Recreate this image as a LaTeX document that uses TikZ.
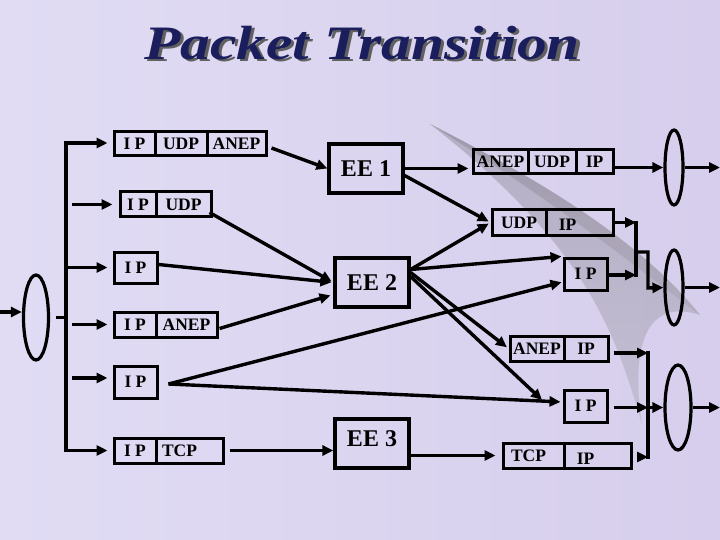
\documentclass[tikz,border=0pt]{standalone}
\usepackage{fontspec}
\setmainfont{Liberation Serif}
\usetikzlibrary{arrows.meta,shapes.geometric}
\definecolor{bgA}{HTML}{E1DCF4}
\definecolor{bgB}{HTML}{D6CEEC}
\definecolor{navy}{HTML}{1B1E5C}
\definecolor{shade}{HTML}{5E5878}
\begin{document}
\begin{tikzpicture}[x=1pt,y=-1pt,
  cell/.style={draw, line width=3pt, inner sep=0pt, font=\bfseries\fontsize{17.5}{17.5}\selectfont},
  celltext/.style={font=\bfseries\fontsize{17.5}{17.5}\selectfont},
  ee/.style={draw, line width=3.2pt, minimum width=74pt, minimum height=49pt, inner sep=0pt, font=\bfseries\fontsize{24}{24}\selectfont},
  conn/.style={line width=3.4pt, -{Triangle[length=11pt,width=10pt]}},
  wire/.style={line width=3.4pt},
  lens/.style={draw, ellipse, line width=3.2pt, inner sep=0pt},
]
% background
\shade[left color=bgA, right color=bgB] (0,0) rectangle (720,540);
\useasboundingbox (0,0) rectangle (720,540);
\fill[shade, opacity=0.13] (430,124) .. controls (540,180) and (640,240) .. (700,315)
  .. controls (655,300) and (628,330) .. (642,425) .. controls (615,330) and (585,245) .. (430,124);
\fill[shade, opacity=0.10] (430,124) .. controls (540,180) and (640,240) .. (700,315)
  .. controls (640,270) and (560,205) .. (430,124);
% title
\node[text=navy, font=\bfseries\itshape\fontsize{48}{48}\selectfont] (title) at (362,44)
  {\scalebox{1.24}[1]{\makebox[0pt][l]{\raisebox{-2.5pt}{\hspace{2.5pt}\textcolor{gray!75!black}{Packet Transition}}}Packet Transition}};

% left ellipse and bus
\node[lens, minimum width=25pt, minimum height=85pt] (L) at (36,317.5) {};
\coordinate (in0) at (0,312);
\coordinate (busT) at (66,143);
\coordinate (busB) at (66,450.5);

% left packets
\node[cell, minimum width=41pt, minimum height=24pt] (a1) at (134.5,144) {I P};
\node[cell, minimum width=52pt, minimum height=24pt] (a2) at (181,144) {UDP};
\node[cell, minimum width=59pt, minimum height=24pt] (a3) at (236.5,144) {ANEP};

\node[cell, minimum width=36pt, minimum height=25pt] (b1) at (138,204.5) {I P};
\node[cell, minimum width=55pt, minimum height=25pt] (b2) at (183.5,204.5) {UDP};

\node[cell, minimum width=43pt, minimum height=31pt] (c1) at (135.5,267.5) {I P};

\node[cell, minimum width=42pt, minimum height=25pt] (d1) at (135,324.5) {I P};
\node[cell, minimum width=61pt, minimum height=25pt] (d2) at (186.5,324.5) {ANEP};

\node[cell, minimum width=43pt, minimum height=32pt] (e1) at (135.5,382) {I P};

\node[cell, minimum width=42pt, minimum height=25pt] (f1) at (135,450.5) {I P};
\node[cell, minimum width=67pt, minimum height=25pt, label={[xshift=-10pt, celltext]center:TCP}] (f2) at (189.5,450.5) {};

\coordinate (s2) at (72,204.5);
\coordinate (s4) at (72,324.5);
\coordinate (s5) at (72,378);

% EE boxes
\node[ee] (EE1) at (366,168.5) {EE 1};
\node[ee] (EE2) at (372,282.5) {EE 2};
\node[ee, label={[yshift=5pt, font=\bfseries\fontsize{24}{24}\selectfont]center:EE 3}] (EE3) at (372,443.5) {};

% right packets
\node[cell, minimum width=55pt, minimum height=24pt] (r1a) at (500.5,162) {ANEP};
\node[cell, minimum width=48pt, minimum height=24pt] (r1b) at (552,162) {UDP};
\node[cell, minimum width=37pt, minimum height=24pt] (r1c) at (594.5,162) {IP};

\node[cell, minimum width=54pt, minimum height=25pt] (r2a) at (519,222.5) {UDP};
\node[cell, minimum width=67pt, minimum height=25pt, label={[xshift=-12pt, yshift=-2pt, celltext]center:IP}] (r2b) at (579.5,222.5) {};

\node[cell, minimum width=43pt, minimum height=32pt] (r3) at (585.5,274) {I P};

\node[cell, minimum width=54pt, minimum height=25pt] (r4a) at (537,348.5) {ANEP};
\node[cell, minimum width=44pt, minimum height=25pt] (r4b) at (586,348.5) {IP};

\node[cell, minimum width=43pt, minimum height=32pt] (r5) at (585.5,406) {I P};

\node[cell, minimum width=61pt, minimum height=25pt, label={[xshift=-5pt, celltext]center:TCP}] (r6a) at (533.5,455.5) {};
\node[cell, minimum width=67pt, minimum height=25pt, label={[xshift=-12pt, yshift=-3pt, celltext]center:IP}] (r6b) at (597.5,455.5) {};

% right ellipses
\node[lens, minimum width=18pt, minimum height=75pt] (E1) at (674,167.5) {};
\node[lens, minimum width=18pt, minimum height=75pt] (E2) at (674,287.5) {};
\node[lens, minimum width=26pt, minimum height=85pt] (E3) at (678,407.5) {};
\coordinate (o1) at (720,167.5);
\coordinate (o2) at (720,287.5);
\coordinate (o3) at (720,407.5);

\coordinate (j1) at (636,222.5);
\coordinate (j2) at (636,275);
\coordinate (j3) at (636,252);
\coordinate (j4) at (648,252);
\coordinate (j5) at (648,288);
\coordinate (k1) at (648,353);
\coordinate (k2) at (648,457);
\coordinate (k3) at (648,407.5);
\coordinate (m5) at (542,400);

% left wiring
\draw[conn] (in0) -- (L.west |- in0);
\draw[wire] ([xshift=6pt]L.east) -- (L.east -| busT);
\draw[wire, line cap=rect] (busT) -- (busB);
\draw[conn, shorten >=5pt] (busT) -- (a1.west |- busT);
\draw[conn, shorten >=6pt] (s2) -- (b1.west);
\draw[conn, shorten >=5pt] (busT |- c1.west) -- (c1.west);
\draw[conn, shorten >=5pt] (s4) -- (d1.west);
\draw[conn, shorten >=5pt] (s5) -- (e1.west |- s5);
\draw[conn, shorten >=5pt] (busB) -- (f1.west);

% to EEs
\draw[conn] ([xshift=4pt,yshift=-4pt]a3.east) -- (EE1.west);
\draw[conn, shorten >=2pt] ([xshift=-3pt,yshift=-8pt]b2.east) -- (EE2.west);
\draw[conn, shorten >=2pt] ([yshift=3pt]c1.east) -- (EE2.west);
\draw[conn, shorten >=3pt] ([xshift=1pt,yshift=-4pt]d2.east) -- ([yshift=-12pt]EE2.west);
\draw[conn] ([xshift=5pt]f2.east) -- (EE3.west |- f2.east);

% from EEs
\draw[conn, shorten >=3pt] (EE1.east) -- (EE1.east -| r1a.west);
\draw[conn, shorten >=2pt] ([yshift=-7pt]EE1.east) -- (r2a.west);
\draw[conn, shorten >=2pt] ([yshift=13pt]EE2.east) -- (r2a.west);
\draw[conn, shorten >=1pt] ([yshift=13pt]EE2.east) -- (r3.west |- EE2.north east);
\draw[conn, shorten >=2pt] ([yshift=10pt]EE2.east) -- (r4a.west);
\draw[conn] ([yshift=6pt]EE2.east) -- (m5);
\draw[conn, shorten >=6pt] (EE3.east |- r6a.west) -- (r6a.west);

% crossing lines from lower IP
\draw[conn, shorten >=1pt] ([xshift=10pt,yshift=-2pt]e1.east) -- ([yshift=-8pt]r3.west);
\draw[conn, shorten >=2pt] ([xshift=10pt,yshift=-2pt]e1.east) -- ([yshift=4pt]r5.west);

% right side
\draw[conn] (E1.west -| r1c.east) -- (E1.west);
\draw[conn] (E1.east) -- (o1);
\draw[conn] (r2b.east) -- (j1);
\draw[wire, line cap=rect] (j1) -- (j2);
\draw[conn] (r3.east |- j2) -- (j2);
\draw[conn] (j3) -- (j4) -- (j5) -- (E2.west);
\draw[conn] (E2.east) -- (o2);

\draw[wire, line cap=rect] (k1) -- (k2);
\draw[conn] ([xshift=4pt]r4b.east |- k1) -- (k1);
\draw[conn] ([xshift=5pt]r5.east |- k3) -- (k3);
\draw[conn] ([xshift=4pt]r6b.east |- k2) -- (k2);
\draw[conn] (k3) -- (E3.west);
\draw[conn] (E3.east) -- (o3);
\end{tikzpicture}
\end{document}
